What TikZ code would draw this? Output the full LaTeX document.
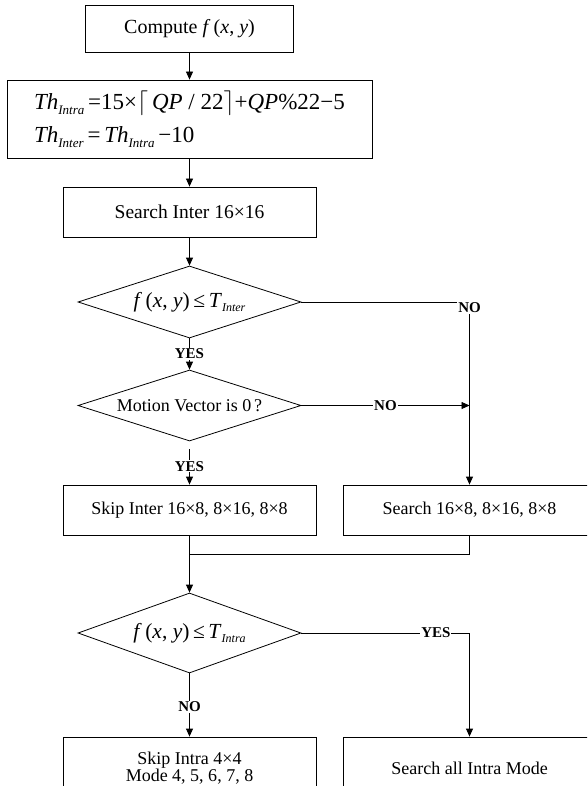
\documentclass[tikz,border=0pt]{standalone}
\usepackage{fontspec}
\setmainfont{Liberation Serif}
\usetikzlibrary{shapes.geometric,arrows.meta}
\newcommand\lowsub[2][12]{\raisebox{-0.45ex}{\fontsize{#1}{#1}\selectfont\textit{#2}}}
\begin{document}
\begin{tikzpicture}[x=1pt,y=-1pt,
  box/.style={draw, line width=0.8pt, minimum width=253pt, minimum height=50pt, inner sep=0pt,
    font=\fontsize{18}{20}\selectfont, align=center},
  dia/.style={draw, line width=0.8pt, diamond, aspect=3.1, minimum width=223pt, minimum height=72pt,
    inner sep=0pt, font=\fontsize{18}{20}\selectfont},
  mth/.style={font=\fontsize{21.5}{22}\selectfont},
  lbl/.style={font=\bfseries\fontsize{15}{15}\selectfont, fill=white, inner sep=1pt},
  arr/.style={-{Triangle[length=8pt,width=7pt]}, line width=0.8pt},
  con/.style={line width=0.8pt}]
\useasboundingbox (0,0) rectangle (587,786);
\clip (0,0) rectangle (587,786);

\node[box, minimum width=208pt, minimum height=47pt, font=\fontsize{20}{22}\selectfont] (c1) at (189.5,28.5)
  {Compute \textit{f}\,(\textit{x},\ \textit{y})};
\node[box, minimum width=365pt, minimum height=78pt, align=left, font=\fontsize{23}{33}\selectfont] (f) at (189.5,119)
  {\textit{Th}\lowsub[13]{Intra}\,=15×$\big\lceil$\,\textit{QP} / 22$\big\rceil$+\textit{QP}\%22−5\\
   \textit{Th}\lowsub[13]{Inter}\,=\,\textit{Th}\lowsub[13]{Intra}\,−10};
\node[box, font=\fontsize{19.5}{20}\selectfont] (s1) at (189.5,212) {Search Inter 16×16};
\node[dia, mth] (d1) at (189.5,302)
  {\textit{f}\,(\textit{x},\ \textit{y})\,≤\,\textit{T}\lowsub{Inter}};
\node[dia, minimum height=71pt] (d2) at (189.5,405.5) {Motion Vector is 0\,?};
\node[box] (sk1) at (189.5,510) {Skip Inter 16×8, 8×16, 8×8};
\node[box] (s2) at (469.5,510) {Search 16×8, 8×16, 8×8};
\node[dia, minimum height=80pt, mth] (d3) at (189.5,633)
  {\textit{f}\,(\textit{x},\ \textit{y})\,≤\,\textit{T}\lowsub{Intra}};
\node[box, minimum height=62pt, font=\fontsize{18}{17}\selectfont] (sk2) at (189.5,768) {Skip Intra 4×4\\Mode 4, 5, 6, 7, 8};
\node[box, minimum height=62pt] (s3) at (469.5,768) {Search all Intra Mode};

\node[lbl] (no1) at (469.5,308) {NO};
\coordinate (jn) at (189.5,554);
\coordinate (y3) at (469.5,633);

\draw[arr] (c1.south) -- (c1.south |- f.north);
\draw[arr] (f.south) -- (s1.north);
\draw[arr] (s1.south) -- (d1.north);
\draw[con] (d1.east) -- (d1.east -| no1.west);
\draw[arr] (no1.south) -- (no1.south |- s2.north);
\draw[arr] (d1.south) -- node[lbl]{YES} (d2.north);
\draw[arr] (d2.east) -- node[lbl]{NO} (no1.south |- d2.east);
\draw[arr, shorten <=8pt] (d2.south) -- node[lbl, pos=0.58]{YES} (sk1.north);
\draw[con] (sk1.south) -- (jn) -| (s2.south);
\draw[arr] (jn) -- (d3.north);
\draw[arr] (d3.east) -- node[lbl, pos=0.8]{YES} (y3) -- (y3 |- s3.north);
\draw[arr] (d3.south) -- node[lbl, pos=0.53]{NO} (sk2.north);
\end{tikzpicture}
\end{document}
